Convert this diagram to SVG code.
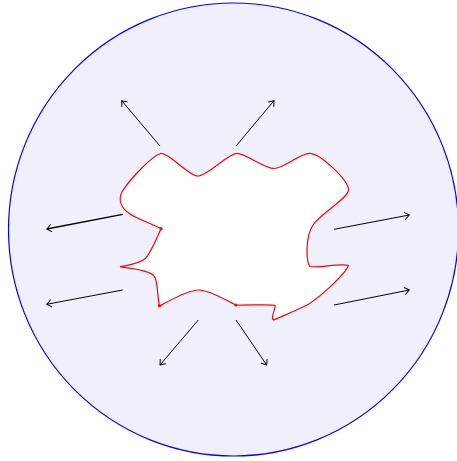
<svg xmlns="http://www.w3.org/2000/svg" width="457" height="461" viewBox="0 0 457 461">
<defs>
<style>
.arr{stroke:#000;stroke-width:1;fill:none;marker-end:url(#ah)}
.dot{fill:red}
</style>
<marker id="ah" markerWidth="10" markerHeight="10" refX="0" refY="0" viewBox="-6 -5 8 10" orient="auto" markerUnits="userSpaceOnUse">
<path d="M-4.5,-3.5 L0,0 L-4.5,3.5" fill="none" stroke="#000" stroke-width="1" stroke-linecap="round" stroke-linejoin="round"/>
</marker>
</defs>
<rect width="457" height="461" fill="#fff"/>
<g id="domain">
<ellipse cx="233.5" cy="229.5" rx="225" ry="226.5" fill="#f0f0fd" stroke="#0000ff" stroke-width="1.2"/>
</g>
<g id="region">
<path d="M161,153.3 C170,153 188,176 198,176 C208,176 228,153.3 236.7,153.3 C246,153.3 264,168.5 274,168.5 C284,168.5 300,153.3 309.5,153.3 C320,153.3 348.5,180 348.5,190 C348.5,198 320,214 313,225 C305,237 306,262 310,266.5 C318,268 342,263 348.5,265.5 C345,274 318,300 305,306 C295,311 280,317 273.5,320 C270,318 276,308 275,305.5 C273,304 245,305.5 236,305 C225,300 210,290 198.5,290 C188,290 165,303 159.5,306 C157,295 158,280 154,276 C150,270 130,268 120,266.7 C130,265 142,262 146,258 C152,250 157,238 161,228.7 C152,224 136,218 130,214 C121,208 118,200 122,192 C128,182 150,157 161,153.3 Z" fill="#fff" stroke="#ff0000" stroke-width="1.2"/>
<circle class="dot" cx="161" cy="228.7" r="1.6"/>
<circle class="dot" cx="159.5" cy="305.8" r="1.6"/>
<circle class="dot" cx="235.8" cy="305" r="1.6"/>
</g>
<g id="connectors">
<line class="arr" x1="160" y1="146" x2="121.7" y2="100.7"/>
<line class="arr" x1="236" y1="146" x2="274" y2="100.7"/>
<line class="arr" x1="122.7" y1="214.3" x2="46.7" y2="229" style="stroke-width:1.3"/>
<line class="arr" x1="122.7" y1="290" x2="46.7" y2="304.3"/>
<line class="arr" x1="334" y1="229.3" x2="409.3" y2="215"/>
<line class="arr" x1="334" y1="305" x2="409.3" y2="290"/>
<line class="arr" x1="198.3" y1="320" x2="160" y2="365"/>
<line class="arr" x1="236" y1="320" x2="266.7" y2="365"/>
</g>
</svg>
